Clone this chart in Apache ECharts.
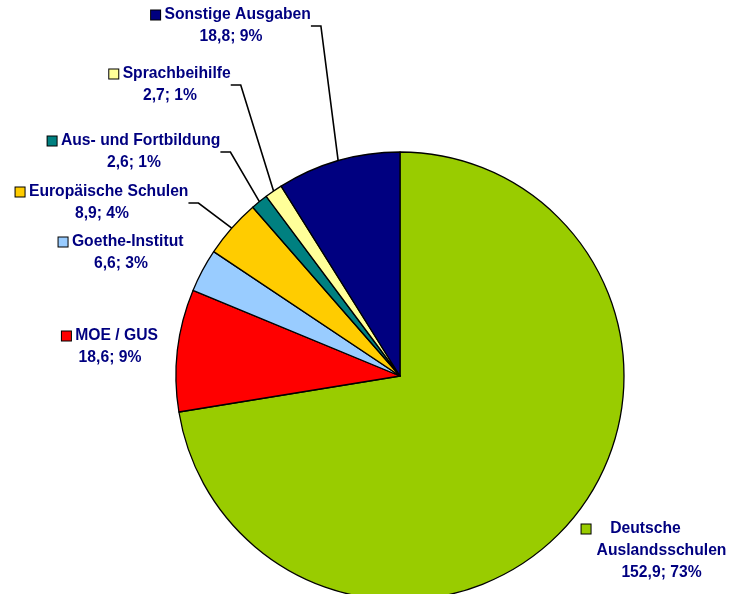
<!DOCTYPE html>
<html>
<head>
<meta charset="utf-8">
<script src="https://cdn.jsdelivr.net/npm/echarts@6/dist/echarts.min.js"></script>
<style>
  html, body { margin: 0; padding: 0; background: #fff; }
  #chart { width: 729px; height: 594px; }
</style>
</head>
<body>
<div id="chart"></div>
<script>
// data (Mio. EUR)
const names = [
  "Deutsche Auslandsschulen",
  "MOE / GUS",
  "Goethe-Institut",
  "Europäische Schulen",
  "Aus- und Fortbildung",
  "Sprachbeihilfe",
  "Sonstige Ausgaben"
];
const values = [152.9, 18.6, 6.6, 8.9, 2.6, 2.7, 18.8];

const colors = ["#99CC00", "#FF0000", "#99CCFF", "#FFCC00", "#008080", "#FFFF99", "#000080"];
// where each label sits (center x, middle y)
const labelPos = [[654, 551], [110, 347], [121, 253], [102, 203], [134, 152], [170, 85], [231, 26]];
const withLine = [false, false, false, true, true, true, true];

const chart = echarts.init(document.getElementById("chart"));

function num(v) {
  return v.toFixed(1).replace(".", ",");
}

const seriesData = names.map(function (n, i) {
  return {
    name: n,
    value: values[i],
    itemStyle: { color: colors[i] },
    labelLine: { show: withLine[i] },
    label: {
      rich: {
        m: { width: 9, height: 9, backgroundColor: colors[i], borderColor: "#000", borderWidth: 1, align: i === 0 ? "left" : undefined },
        s: { width: 15, height: 9, align: "left" },
        r: { width: 26, height: 9, align: "right" },
        n: {}
      }
    }
  };
});

const option = {
  animation: false,
  backgroundColor: "#fff",
  series: [
    {
      type: "pie",
      center: [400, 376],
      radius: 224,
      startAngle: 90,
      clockwise: true,
      percentPrecision: 0,
      avoidLabelOverlap: false,
      silent: true,
      itemStyle: { borderColor: "#000", borderWidth: 1.3 },
      label: {
        show: true,
        position: "outside",
        color: "#000080",
        fontFamily: "Liberation Sans, Arial, sans-serif",
        fontWeight: "bold",
        fontSize: 15.7,
        lineHeight: 22,
        formatter: function (p) {
          const txt = num(p.value) + "; " + p.percent + "%";
          if (p.dataIndex === 0) {
            const parts = p.name.split(" ");
            return "{m|}{n|" + parts[0] + "}{r|}\n{s|}{n|" + parts[1] + "}\n{s|}{n|" + txt + "}";
          }
          return "{m|}{n| " + p.name + "}\n{n|" + txt + "}";
        }
      },
      labelLine: {
        show: true,
        length: 10,
        length2: 10,
        smooth: false,
        lineStyle: { color: "#000", width: 1.6 }
      },
      labelLayout: function (p) {
        const pos = labelPos[p.dataIndex];
        return { x: pos[0], y: pos[1], align: "center", verticalAlign: "middle" };
      },
      data: seriesData
    }
  ]
};

chart.setOption(option);
</script>
</body>
</html>
